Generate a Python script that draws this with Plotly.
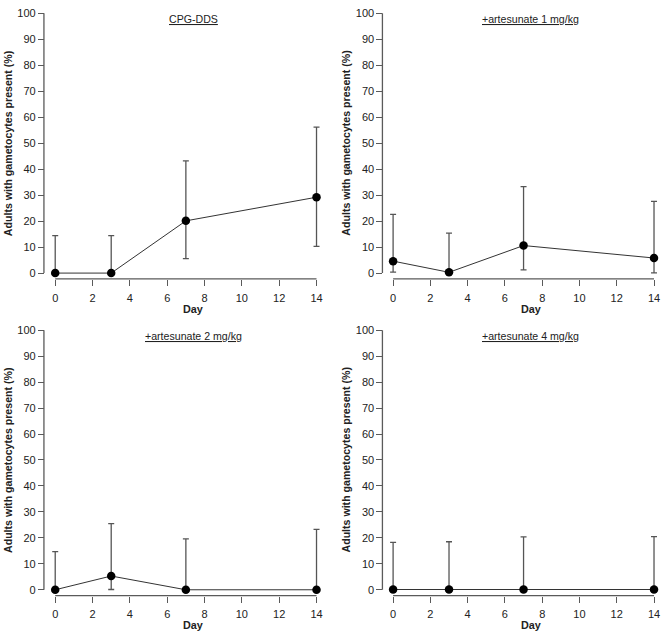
import plotly.graph_objects as go

# ---- data ----
days = [0, 3, 7, 14]
panel_titles = ["CPG-DDS", "+artesunate 1 mg/kg", "+artesunate 2 mg/kg", "+artesunate 4 mg/kg"]

cpg_dds = [0, 0, 20.1, 29.2]
cpg_dds_lo = [0, 0, 5.6, 10.3]
cpg_dds_hi = [14.4, 14.4, 43.2, 56.2]

art1 = [4.6, 0.3, 10.6, 5.8]
art1_lo = [0.4, 0.3, 1.2, 0.1]
art1_hi = [22.6, 15.4, 33.3, 27.6]

art2 = [0, 5.3, 0, 0]
art2_lo = [0, 0.1, 0, 0]
art2_hi = [14.7, 25.5, 19.6, 23.3]

art4 = [0.1, 0.1, 0.1, 0.1]
art4_lo = [0.1, 0.1, 0.1, 0.1]
art4_hi = [18.3, 18.5, 20.4, 20.5]

x_ticks = [0, 2, 4, 6, 8, 10, 12, 14]
y_ticks = [0, 10, 20, 30, 40, 50, 60, 70, 80, 90, 100]
x_title = "Day"
y_title = "Adults with gametocytes present (%)"

series = [
    (cpg_dds, cpg_dds_lo, cpg_dds_hi),
    (art1, art1_lo, art1_hi),
    (art2, art2_lo, art2_hi),
    (art4, art4_lo, art4_hi),
]

# ---- layout geometry (pixels) ----
W, H = 661, 632
def px(x):
    return x / W
def py(y):
    return 1 - y / H

# left px of day0, right px of day14, top px of 100, bottom px of 0, y-axis line x, x-axis line y
geo = [
    (55.3, 317.0, 9.3, 270.8, 44.0, 276.7),
    (393.7, 655.0, 9.3, 270.8, 383.0, 276.7),
    (55.3, 317.0, 328.3, 589.5, 44.0, 595.3),
    (393.7, 655.0, 328.3, 589.5, 383.0, 595.3),
]

XPAD, YPAD_LO, YPAD_HI = 0.3, 3.0, 1.0
AX_COLOR = "#5a5a5a"
FONT = "Liberation Sans, Arial, sans-serif"
TICK_FONT = dict(size=11, color="#222222")

fig = go.Figure()
layout = dict(
    width=W, height=H,
    margin=dict(l=0, r=0, t=0, b=0),
    paper_bgcolor="white", plot_bgcolor="white",
    showlegend=False,
    font=dict(family=FONT, size=11, color="#222222"),
)
shapes = []
annotations = []

for i, ((vals, lo, hi), title, g) in enumerate(zip(series, panel_titles, geo)):
    l, r, t, b, yl, xl = g
    xs = (r - l) / 14.0
    ys = (b - t) / 100.0
    n = "" if i == 0 else str(i + 1)
    xa, ya = "x" + n, "y" + n
    layout["xaxis" + n] = dict(
        domain=[px(l - XPAD * xs), px(r + XPAD * xs)],
        range=[-XPAD, 14 + XPAD],
        anchor="free", position=py(xl),
        tickvals=x_ticks, ticks="outside", ticklen=6.5, tickwidth=1.3, tickcolor=AX_COLOR,
        showline=False, showgrid=False, zeroline=False, ticklabeloverflow="allow",
        ticklabelstandoff=2,
        tickfont=TICK_FONT,
    )
    layout["yaxis" + n] = dict(
        domain=[py(b + YPAD_LO * ys), py(t - YPAD_HI * ys)],
        range=[-YPAD_LO, 100 + YPAD_HI],
        anchor="free", position=px(yl),
        tickvals=y_ticks, ticks="outside", ticklen=6, tickwidth=1.3, tickcolor=AX_COLOR,
        showline=False, showgrid=False, zeroline=False, ticklabeloverflow="allow",
        tickfont=TICK_FONT,
    )
    err_plus = [h - v for h, v in zip(hi, vals)]
    err_minus = [v - q for v, q in zip(vals, lo)]
    fig.add_trace(go.Scatter(
        x=days, y=vals, xaxis=xa, yaxis=ya, mode="lines+markers",
        line=dict(color="#333333", width=1),
        marker=dict(color="black", size=8.5),
        error_y=dict(type="data", symmetric=False, array=err_plus, arrayminus=err_minus,
                     color="#555555", thickness=1.3, width=3),
        cliponaxis=False,
    ))
    # axis lines (detached, R style)
    shapes.append(dict(type="line", xref="paper", yref=ya, x0=px(yl), x1=px(yl), y0=0, y1=100,
                       line=dict(color=AX_COLOR, width=1.3)))
    shapes.append(dict(type="line", xref=xa, yref="paper", x0=0, x1=14, y0=py(xl), y1=py(xl),
                       line=dict(color=AX_COLOR, width=1.3)))
    cx = (l + r) / 2 + 7.3
    annotations.append(dict(
        text='<span style="text-decoration:underline">' + title + "</span>",
        xref="paper", yref="paper", x=px(cx), y=py(t + 5.5), xanchor="center", yanchor="middle",
        showarrow=False, font=dict(size=10.6, color="#222222"),
    ))
    annotations.append(dict(
        text="<b>" + x_title + "</b>", xref="paper", yref="paper", x=px(cx), y=py(xl + 30),
        xanchor="center", yanchor="middle", showarrow=False, font=dict(size=10.8, color="#222222"),
    ))
    annotations.append(dict(
        text="<b>" + y_title + "</b>", xref="paper", yref="paper", x=px(yl - 36), y=py((t + b) / 2),
        xanchor="center", yanchor="middle", textangle=-90, showarrow=False,
        font=dict(size=10.6, color="#222222"),
    ))

layout["shapes"] = shapes
layout["annotations"] = annotations
fig.update_layout(**layout)
fig.write_html(
    "out.html",
    config={"displayModeBar": False},
    post_script="document.body.style.margin='0';document.body.style.overflow='hidden';",
)
